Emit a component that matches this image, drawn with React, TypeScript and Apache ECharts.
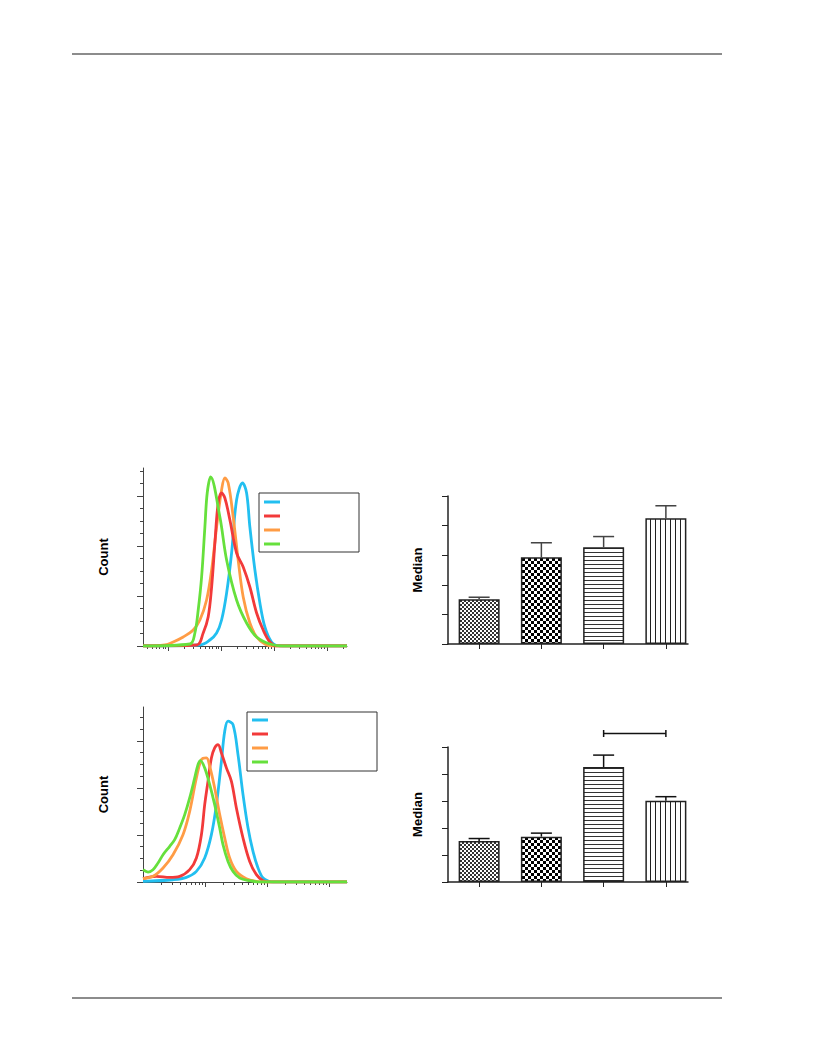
import React, { useEffect, useRef } from "react";
import * as echarts from "echarts";

// ---------- Histogram data (x = log10 fluorescence, y = count) ----------
const blueTop: number[][] = [[0.53,0],[1.604,1],[1.792,6],[1.919,13],[2.013,26],[2.108,53],[2.202,93],[2.296,146],[2.409,163],[2.485,153],[2.547,119],[2.642,76],[2.736,43],[2.83,19],[2.957,4],[3.113,0],[4.38,0]];
const redTop: number[][] = [[0.53,0],[1.542,1],[1.666,13],[1.76,29],[1.825,59],[1.887,103],[1.949,143],[2.013,153],[2.075,148],[2.17,126],[2.296,93],[2.421,79],[2.547,59],[2.674,33],[2.798,16],[2.925,4],[3.051,0],[4.38,0]];
const orangeTop: number[][] = [[0.53,0],[0.943,1],[1.1,4],[1.289,9],[1.477,16],[1.604,26],[1.73,46],[1.825,76],[1.919,119],[2.013,156],[2.075,168],[2.138,163],[2.232,129],[2.326,86],[2.421,49],[2.547,23],[2.674,9],[2.83,2],[2.981,0],[4.38,0]];
const greenTop: number[][] = [[0.53,0],[1.415,2],[1.509,13],[1.572,36],[1.636,69],[1.698,119],[1.742,153],[1.806,169],[1.981,129],[2.108,86],[2.296,46],[2.485,23],[2.674,9],[2.925,2],[3.17,0],[4.38,0]];

const blueBot: number[][] = [[0,0.7],[0.484,2.4],[0.7,4.9],[0.861,11.3],[0.995,25.5],[1.103,50.3],[1.184,82.2],[1.265,128.3],[1.318,160.2],[1.371,170.9],[1.452,167.3],[1.532,135.4],[1.613,92.9],[1.694,57.4],[1.774,32.6],[1.855,14.9],[1.935,4.3],[2.04,0.6],[2.1,0],[3.29,0]];
const redBot: number[][] = [[0,3.5],[0.216,6],[0.431,4.9],[0.592,6],[0.753,13.1],[0.861,25.5],[0.942,50.3],[0.995,82.2],[1.048,107],[1.103,131.9],[1.156,142.6],[1.21,146.1],[1.265,137.2],[1.345,121.3],[1.426,107],[1.506,78.7],[1.613,46.8],[1.721,21.9],[1.829,7.8],[1.935,1.4],[2.04,0],[3.29,0]];
const orangeBot: number[][] = [[0,3.5],[0.161,6],[0.323,14.9],[0.484,29],[0.645,50.3],[0.753,75.1],[0.861,110.6],[0.942,130.1],[1.023,131.9],[1.076,123],[1.156,100],[1.237,71.6],[1.318,46.8],[1.398,25.5],[1.506,11.3],[1.667,3.5],[1.828,0.6],[1.95,0],[3.29,0]];
const greenBot: number[][] = [[0,13.1],[0.081,10.6],[0.161,13.1],[0.242,20.2],[0.323,29],[0.431,37.9],[0.511,45],[0.592,57.4],[0.673,71.6],[0.753,89.4],[0.834,110.6],[0.887,124.8],[0.926,129],[0.995,121.3],[1.076,103.5],[1.156,82.2],[1.237,57.4],[1.29,39.7],[1.371,21.9],[1.452,11.3],[1.56,4.3],[1.721,1.4],[1.882,0],[3.29,0]];

// ---------- Bar chart data ----------
const categories = ["1", "2", "3", "4"];
const medianTop = [1.51, 2.93, 3.27, 4.25];
const errTop = [0.07, 0.49, 0.36, 0.42];
const medianBot = [1.52, 1.68, 4.26, 3.01];
const errBot = [0.09, 0.13, 0.44, 0.15];
const bracketBot = { from: 2, to: 3, level: 5.5 };

// tick values
const histTopMajor = [1, 2, 3, 4];
const histBotMajor = [1, 2, 3];
const countMajor = [0, 50, 100, 150];

const COLORS = { blue: "#22bff0", red: "#f23a3a", orange: "#ff9c45", green: "#66e03c" };
const FONT = "Liberation Sans, Arial, sans-serif";

function logMinor(min: number, max: number): number[] {
  const out: number[] = [];
  for (let d = -1; d <= 6; d++) {
    for (let k = 2; k <= 9; k++) {
      const v = d + Math.log10(k);
      if (v >= min && v <= max) out.push(v);
    }
  }
  return out;
}
function linMinor(step: number, max: number, majorStep: number): number[] {
  const out: number[] = [];
  for (let v = step; v <= max; v += step) {
    if (Math.abs(v / majorStep - Math.round(v / majorStep)) > 1e-6) out.push(v);
  }
  return out;
}

function makePattern(kind: string): any {
  const c = document.createElement("canvas");
  const ctx = c.getContext("2d")!;
  if (kind === "fine") {
    c.width = 4; c.height = 4;
    ctx.fillStyle = "#fff"; ctx.fillRect(0, 0, 4, 4);
    ctx.fillStyle = "#333"; ctx.fillRect(0, 0, 2, 2); ctx.fillRect(2, 2, 2, 2);
  } else if (kind === "checker") {
    c.width = 6; c.height = 6;
    ctx.fillStyle = "#fff"; ctx.fillRect(0, 0, 6, 6);
    ctx.fillStyle = "#000"; ctx.fillRect(0, 0, 3, 3); ctx.fillRect(3, 3, 3, 3);
  } else if (kind === "hlines") {
    c.width = 4; c.height = 4;
    ctx.fillStyle = "#fff"; ctx.fillRect(0, 0, 4, 4);
    ctx.fillStyle = "#333"; ctx.fillRect(0, 0, 4, 1);
  } else {
    c.width = 5; c.height = 4;
    ctx.fillStyle = "#fff"; ctx.fillRect(0, 0, 5, 4);
    ctx.fillStyle = "#222"; ctx.fillRect(0, 0, 1, 4);
  }
  return { image: c, repeat: "repeat", imageWidth: c.width, imageHeight: c.height };
}

export default function App() {
  const ref = useRef<HTMLDivElement>(null);
  useEffect(() => {
    if (!ref.current) return;
    const chart = echarts.init(ref.current, null, { renderer: "svg" });
    const patterns = ["fine", "checker", "hlines", "vlines"].map(makePattern);
    const axisColor = "#444";

    const histX = (grid: number, min: number, max: number, ticks: number[], minor: boolean) => ({
      type: "value", gridIndex: grid, min, max, position: "bottom",
      axisLine: { show: !minor, onZero: false, lineStyle: { color: axisColor, width: 1 } },
      axisTick: { show: true, customValues: ticks, length: minor ? 3 : 5, lineStyle: { color: axisColor } },
      axisLabel: { show: false }, splitLine: { show: false },
    });
    const histY = (grid: number, max: number, ticks: number[], minor: boolean) => ({
      type: "value", gridIndex: grid, min: 0, max, position: "left",
      name: minor ? "" : "Count", nameLocation: "middle", nameGap: 33,
      nameTextStyle: { fontWeight: "bold", fontSize: 13, color: "#000", fontFamily: FONT },
      axisLine: { show: !minor, onZero: false, lineStyle: { color: axisColor, width: 1 } },
      axisTick: { show: true, customValues: ticks, length: minor ? 3 : 6, lineStyle: { color: axisColor } },
      axisLabel: { show: false }, splitLine: { show: false },
    });
    const barX = (grid: number) => ({
      type: "category", gridIndex: grid, data: categories, position: "bottom",
      axisLine: { show: false },
      axisTick: { show: true, alignWithLabel: true, length: 5, lineStyle: { color: "#222", width: 1 } },
      axisLabel: { show: false },
    });
    const lineX = (grid: number) => ({
      type: "value", gridIndex: grid, min: 0, max: 1, position: "bottom",
      axisLine: { show: true, onZero: false, lineStyle: { color: "#222", width: 1.5 } },
      axisTick: { show: false }, axisLabel: { show: false }, splitLine: { show: false },
    });
    const barY = (grid: number) => ({
      type: "value", gridIndex: grid, min: 0, max: 5, interval: 1, position: "left",
      name: "Median", nameLocation: "middle", nameGap: 24,
      nameTextStyle: { fontWeight: "bold", fontSize: 13, color: "#000", fontFamily: FONT },
      axisLine: { show: true, lineStyle: { color: "#222", width: 1.5 } },
      axisTick: { show: true, length: 6, lineStyle: { color: "#222", width: 1 } },
      axisLabel: { show: false }, splitLine: { show: false },
    });
    const hiddenY = (grid: number) => ({ type: "value", gridIndex: grid, min: 0, max: 1, show: false });

    const lineSeries = (data: number[][], color: string, xi: number, yi: number) => ({
      type: "line", data, xAxisIndex: xi, yAxisIndex: yi, showSymbol: false, smooth: 0.35,
      lineStyle: { color, width: 2.8 }, itemStyle: { color }, silent: true,
    });
    const barSeries = (vals: number[], xi: number, yi: number) => ({
      type: "bar", xAxisIndex: xi, yAxisIndex: yi, barWidth: 41,
      data: vals.map((v, i) => ({ value: v, itemStyle: { color: patterns[i], borderColor: "#222", borderWidth: 1.5 } })),
    });
    const errSeries = (vals: number[], errs: number[], xi: number, yi: number, color: string) => ({
      type: "custom", xAxisIndex: xi, yAxisIndex: yi, z: 5,
      data: vals.map((v, i) => [i, v, errs[i]]),
      renderItem: (_p: any, api: any) => {
        const i = api.value(0), v = api.value(1), e = api.value(2);
        const b = api.coord([i, v]);
        const t = api.coord([i, v + e]);
        const st = { stroke: color, lineWidth: 1.5 };
        return {
          type: "group",
          children: [
            { type: "line", shape: { x1: b[0], y1: b[1], x2: t[0], y2: t[1] }, style: st },
            { type: "line", shape: { x1: t[0] - 10.5, y1: t[1], x2: t[0] + 10.5, y2: t[1] }, style: st },
          ],
        };
      },
    });
    const bracketSeries = (br: { from: number; to: number; level: number }, xi: number, yi: number) => ({
      type: "custom", xAxisIndex: xi, yAxisIndex: yi, clip: false, z: 5,
      data: [[br.from, br.to, br.level]],
      renderItem: (_p: any, api: any) => {
        const a = api.coord([api.value(0), api.value(2)]);
        const b = api.coord([api.value(1), api.value(2)]);
        const st = { stroke: "#111", lineWidth: 1.5 };
        return {
          type: "group",
          children: [
            { type: "line", shape: { x1: a[0], y1: a[1], x2: b[0], y2: b[1] }, style: st },
            { type: "line", shape: { x1: a[0], y1: a[1] - 3.5, x2: a[0], y2: a[1] + 3.5 }, style: st },
            { type: "line", shape: { x1: b[0], y1: b[1] - 3.5, x2: b[0], y2: b[1] + 3.5 }, style: st },
          ],
        };
      },
    });

    const legendBox = (x: number, y: number, w: number, h: number, lineY: number[]) => ({
      type: "group",
      children: [
        { type: "rect", shape: { x, y, width: w, height: h }, style: { fill: "#fff", stroke: "#333", lineWidth: 1 }, z: 10 },
        ...[COLORS.blue, COLORS.red, COLORS.orange, COLORS.green].map((c, i) => ({
          type: "line", z: 11,
          shape: { x1: x + 5, y1: lineY[i], x2: x + 21, y2: lineY[i] },
          style: { stroke: c, lineWidth: 3 },
        })),
      ],
    });

    chart.setOption({
      animation: false,
      backgroundColor: "#fff",
      grid: [
        { left: 143, top: 468, width: 204, height: 178 },
        { left: 143, top: 707, width: 204, height: 175 },
        { left: 448, top: 496, width: 249, height: 148 },
        { left: 448, top: 496, width: 240, height: 148 },
        { left: 448, top: 747, width: 249, height: 135 },
        { left: 448, top: 747, width: 240, height: 135 },
      ],
      xAxis: [
        histX(0, 0.53, 4.38, histTopMajor, false),
        histX(0, 0.53, 4.38, logMinor(0.53, 4.38), true),
        histX(1, 0, 3.29, histBotMajor, false),
        histX(1, 0, 3.29, logMinor(0, 3.29), true),
        barX(2),
        lineX(3),
        barX(4),
        lineX(5),
      ],
      yAxis: [
        histY(0, 178, countMajor, false),
        histY(0, 178, linMinor(12.5, 178, 50), true),
        histY(1, 186, countMajor, false),
        histY(1, 186, linMinor(12.5, 186, 50), true),
        barY(2),
        hiddenY(3),
        barY(4),
        hiddenY(5),
      ],
      series: [
        lineSeries(blueTop, COLORS.blue, 0, 0),
        lineSeries(orangeTop, COLORS.orange, 0, 0),
        lineSeries(redTop, COLORS.red, 0, 0),
        lineSeries(greenTop, COLORS.green, 0, 0),
        lineSeries(blueBot, COLORS.blue, 2, 2),
        lineSeries(redBot, COLORS.red, 2, 2),
        lineSeries(orangeBot, COLORS.orange, 2, 2),
        lineSeries(greenBot, COLORS.green, 2, 2),
        barSeries(medianTop, 4, 4),
        errSeries(medianTop, errTop, 4, 4, "#444"),
        barSeries(medianBot, 6, 6),
        errSeries(medianBot, errBot, 6, 6, "#111"),
        bracketSeries(bracketBot, 6, 6),
      ],
      graphic: [
        { type: "line", shape: { x1: 72, y1: 54, x2: 722, y2: 54 }, style: { stroke: "#8c8c8c", lineWidth: 2 } },
        { type: "line", shape: { x1: 72, y1: 998, x2: 722, y2: 998 }, style: { stroke: "#8c8c8c", lineWidth: 2 } },
        legendBox(259, 493, 100, 59, [502, 516, 530, 544]),
        legendBox(247, 712, 130, 59, [720, 734, 748, 762]),
      ],
    });
    return () => chart.dispose();
  }, []);
  return <div ref={ref} style={{ position: "absolute", left: 0, top: 0, width: 816, height: 1056 }} />;
}
